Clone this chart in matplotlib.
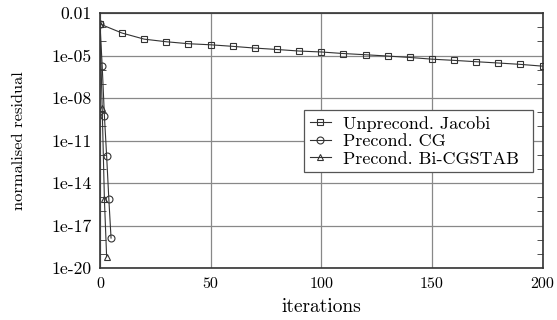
import matplotlib
matplotlib.use("Agg")
import matplotlib.pyplot as plt
from matplotlib.ticker import FixedLocator, FixedFormatter, LogLocator, NullFormatter

plt.rcParams['font.family'] = ['cmr10', 'DejaVu Serif']
plt.rcParams['axes.unicode_minus'] = False

jac_iter = [0, 10, 20, 30, 40, 50, 60, 70, 80, 90, 100, 110, 120, 130, 140, 150, 160, 170, 180, 190, 200]
jac_res = [1.7e-3, 3.9e-4, 1.45e-4, 9.5e-5, 6.9e-5, 5.8e-5, 4.5e-5, 3.4e-5, 2.7e-5, 2.1e-5, 1.8e-5,
           1.4e-5, 1.15e-5, 9.3e-6, 7.4e-6, 5.6e-6, 4.6e-6, 3.7e-6, 3.0e-6, 2.4e-6, 1.8e-6]
cg_iter = [0, 1, 2, 3, 4, 5]
cg_res = [1.7e-3, 1.8e-6, 5.6e-10, 8.5e-13, 7.4e-16, 1.3e-18]
bicg_iter = [0, 1, 2, 3]
bicg_res = [1.7e-3, 1.9e-9, 7e-16, 6.3e-20]

ytick_vals = [1e-20, 1e-17, 1e-14, 1e-11, 1e-8, 1e-5, 1e-2]
ytick_labels = ['1e-20', '1e-17', '1e-14', '1e-11', '1e-08', '1e-05', '0.01']
xtick_vals = [0, 50, 100, 150, 200]
xtick_labels = ['0', '50', '100', '150', '200']

fig = plt.figure(figsize=(5.57, 3.2), dpi=100)
ax = fig.add_axes([0.1795, 0.1625, 0.7945, 0.7965])

lc = '#333333'
ax.plot(jac_iter, jac_res, marker='s', color=lc, lw=0.8, ms=5, mfc='none', mew=0.8,
        label='Unprecond. Jacobi')
ax.plot(cg_iter, cg_res, marker='o', color=lc, lw=0.8, ms=5, mfc='none', mew=0.8,
        label='Precond. CG')
ax.plot(bicg_iter, bicg_res, marker='^', color=lc, lw=0.8, ms=5, mfc='none', mew=0.8,
        label='Precond. Bi-CGSTAB')

ax.set_yscale('log')
ax.set_xlim(0, 200)
ax.set_ylim(1e-20, 1e-2)
ax.yaxis.set_major_locator(FixedLocator(ytick_vals))
ax.yaxis.set_major_formatter(FixedFormatter(ytick_labels))
ax.yaxis.set_minor_locator(LogLocator(base=10, subs=(1.0,), numticks=40))
ax.yaxis.set_minor_formatter(NullFormatter())
ax.xaxis.set_major_locator(FixedLocator(xtick_vals))
ax.xaxis.set_major_formatter(FixedFormatter(xtick_labels))

ax.grid(True, which='major', color='#888888', lw=0.9)
ax.tick_params(which='both', direction='in', right=True, top=False, color=lc)
ax.tick_params(which='major', length=0)
ax.tick_params(axis='y', which='major', labelsize=12.7, pad=6)
ax.tick_params(axis='x', which='major', labelsize=11.5, pad=7)
ax.tick_params(which='minor', length=4)
for s in ax.spines.values():
    s.set_color(lc)
    s.set_linewidth(1.2)

ax.set_xlabel('iterations', fontsize=14, labelpad=5)
ax.set_ylabel('normalised residual', fontsize=11.8, labelpad=18)

leg = ax.legend(loc='upper left', bbox_to_anchor=(0.461, 0.376, 0.518, 0.2436), mode='expand',
                fontsize=13, handlelength=1.15, handletextpad=0.7, borderpad=0.32,
                borderaxespad=0, labelspacing=0.1, fancybox=False, framealpha=1,
                edgecolor='#555555')
leg.get_frame().set_linewidth(0.9)

fig.savefig('out.png', dpi=100)
